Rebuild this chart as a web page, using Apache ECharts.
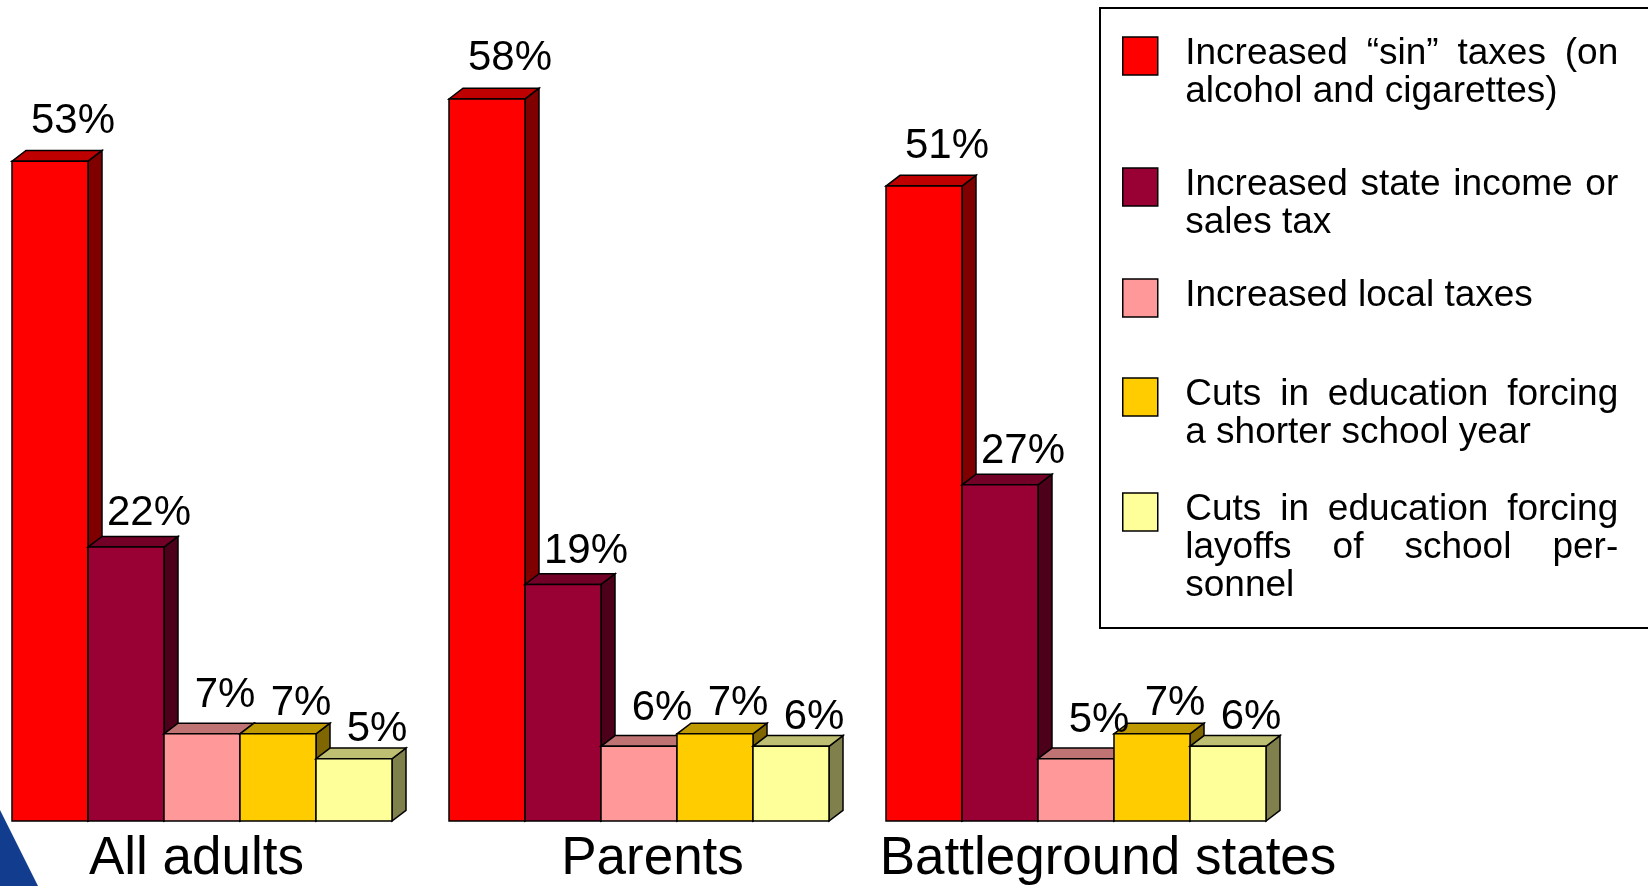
<!DOCTYPE html>
<html>
<head>
<meta charset="utf-8">
<script src="https://cdn.jsdelivr.net/npm/echarts@6/dist/echarts.min.js"></script>
<style>
  html, body { margin: 0; padding: 0; background: #fff; }
  #chart { width: 1648px; height: 886px; }
</style>
</head>
<body>
<div id="chart"></div>
<script>
// data
const categories = ['All adults', 'Parents', 'Battleground states'];
const seriesNames = [
  'Increased “sin” taxes (on alcohol and cigarettes)',
  'Increased state income or sales tax',
  'Increased local taxes',
  'Cuts in education forcing a shorter school year',
  'Cuts in education forcing layoffs of school personnel'
];
// legend wording, one entry per line as in the picture
const legendLines = [
  ['Increased “sin” taxes (on', 'alcohol and cigarettes)'],
  ['Increased state income or', 'sales tax'],
  ['Increased local taxes'],
  ['Cuts in education forcing', 'a shorter school year'],
  ['Cuts in education forcing', 'layoffs of school per-', 'sonnel']
];
const sinTaxes = [53, 58, 51];
const stateTaxes = [22, 19, 27];
const localTaxes = [7, 6, 5];
const shorterYear = [7, 7, 7];
const layoffs = [5, 6, 6];
const seriesValues = [sinTaxes, stateTaxes, localTaxes, shorterYear, layoffs];

const frontColors = ['#FF0000', '#990033', '#FF9999', '#FFCC00', '#FFFF99'];
const labelGap = [40, 33.5, 38, 30.5, 29]; // label height above bar, per series
const FONT = '"Liberation Sans", Arial, sans-serif';

// darker shade for the 3d faces
function shade(hex, k) {
  const n = parseInt(hex.slice(1), 16);
  const r = Math.round(((n >> 16) & 255) * k);
  const g = Math.round(((n >> 8) & 255) * k);
  const b = Math.round((n & 255) * k);
  return 'rgb(' + r + ',' + g + ',' + b + ')';
}

const BAR_RATIO = 76 / 437;     // bar width / band width
const START_RATIO = 206.5 / 437; // group start left of band centre
const DX = 14, DY = 10.7;       // depth of the fake 3d

function renderBar(params, api) {
  const ci = api.value(0);
  const v = api.value(1);
  const top = api.coord([ci, v]);
  const base = api.coord([ci, 0]);
  const band = api.size([1, 0])[0];
  const w = band * BAR_RATIO;
  const si = params.seriesIndex;
  const x0 = top[0] - band * START_RATIO + si * w;
  const x1 = x0 + w;
  const yT = top[1], yB = base[1];
  const col = frontColors[si];
  const stroke = { stroke: '#000', lineWidth: 1.5, lineJoin: 'miter' };
  return {
    type: 'group',
    children: [
      {
        type: 'polygon',
        shape: { points: [[x1, yT], [x1 + DX, yT - DY], [x1 + DX, yB - DY], [x1, yB]] },
        style: Object.assign({ fill: shade(col, 0.5) }, stroke)
      },
      {
        type: 'polygon',
        shape: { points: [[x0, yT], [x1, yT], [x1 + DX, yT - DY], [x0 + DX, yT - DY]] },
        style: Object.assign({ fill: shade(col, 0.75) }, stroke)
      },
      {
        type: 'rect',
        shape: { x: x0, y: yT, width: w, height: yB - yT },
        style: Object.assign({ fill: col }, stroke)
      },
      {
        type: 'text',
        z2: 100,
        style: {
          text: v + '%',
          x: x0 + w / 2 + 23,
          y: yT - labelGap[si],
          align: 'center',
          verticalAlign: 'middle',
          font: '42px ' + FONT,
          fill: '#000'
        }
      }
    ]
  };
}

// justified legend text built with rich gap tokens
const LEG_FS = 37, LEG_LH = 38;
const measureCtx = document.createElement('canvas').getContext('2d');
measureCtx.font = LEG_FS + 'px "Liberation Sans"';
const JUSTIFY_W = 433;

function buildLegendText(lines, rich) {
  return lines.map(function (line, li) {
    const words = line.split(' ');
    if (li === lines.length - 1 || words.length < 2) return line;
    const wordsW = words.reduce(function (s, wd) { return s + measureCtx.measureText(wd).width; }, 0);
    const gap = (JUSTIFY_W - wordsW) / (words.length - 1);
    const key = 'g' + li;
    rich[key] = { width: gap, fontSize: LEG_FS, fontFamily: FONT, lineHeight: LEG_LH };
    return words.join('{' + key + '| }');
  }).join('\n');
}

const iconTops = [37, 168, 279, 378, 493];
const legends = seriesNames.map(function (name, i) {
  const n = legendLines[i].length;
  const shift = LEG_LH * (n - 1) / 2 - 2.3;
  const pt = shift > 0 ? 2 * shift : 0;
  const pb = shift < 0 ? -2 * shift : 0;
  const blockH = LEG_LH * n + pt + pb;
  const iconCenter = iconTops[i] + 19;
  const rich = {};
  const text = buildLegendText(legendLines[i], rich);
  return {
    data: [name],
    left: 1122,
    top: Math.min(iconTops[i], iconCenter - blockH / 2),
    padding: 0,
    orient: 'vertical',
    icon: 'rect',
    itemWidth: 35,
    itemHeight: 38,
    itemStyle: { borderColor: '#000', borderWidth: 1.5 },
    selectedMode: false,
    formatter: function () { return text; },
    textStyle: {
      fontSize: LEG_FS,
      fontFamily: FONT,
      color: '#000',
      lineHeight: LEG_LH,
      padding: [pt, 0, pb, 22.5],
      rich: rich
    }
  };
});

const chart = echarts.init(document.getElementById('chart'));
chart.setOption({
  animation: false,
  backgroundColor: '#fff',
  grid: { left: 0, right: 337, top: 74, bottom: 65 },
  xAxis: {
    type: 'category',
    data: categories,
    axisLine: { show: false },
    axisTick: { show: false },
    axisLabel: {
      interval: 0,
      margin: 12,
      fontSize: 53,
      fontFamily: FONT,
      color: '#000',
      formatter: function (v, i) { return '{c' + i + '|' + v + '}'; },
      rich: {
        c0: { fontSize: 53, fontFamily: FONT, color: '#000', padding: [0, 44, 0, 0] },
        c1: { fontSize: 53, fontFamily: FONT, color: '#000', padding: [0, 6, 0, 0] },
        c2: { fontSize: 53, fontFamily: FONT, color: '#000', padding: [0, 0, 0, 31] }
      }
    }
  },
  yAxis: {
    type: 'value',
    min: 0,
    max: 60,
    show: false,
    splitLine: { show: false }
  },
  legend: legends,
  graphic: [
    {
      type: 'rect',
      shape: { x: 1100, y: 8, width: 620, height: 620 },
      style: { fill: 'none', stroke: '#000', lineWidth: 2 },
      z: -1
    },
    {
      type: 'polygon',
      shape: { points: [[0, 810], [38, 886], [0, 886]] },
      style: { fill: '#123C8E' },
      z: -1
    }
  ],
  series: seriesNames.map(function (name, i) {
    return {
      name: name,
      type: 'custom',
      renderItem: renderBar,
      itemStyle: { color: frontColors[i], borderColor: '#000', borderWidth: 1.5 },
      data: seriesValues[i].map(function (v, ci) { return [ci, v]; }),
      encode: { x: 0, y: 1 }
    };
  })
});
</script>
</body>
</html>
